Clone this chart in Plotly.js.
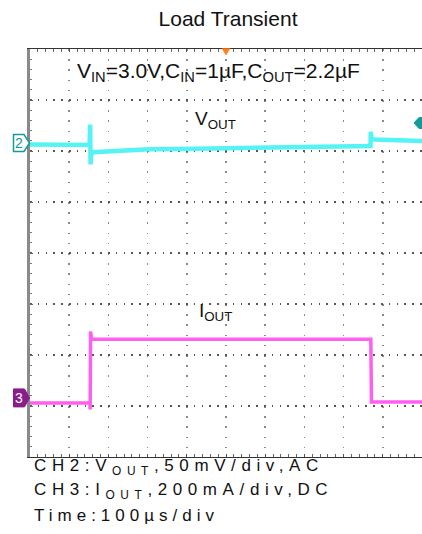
<!DOCTYPE html>
<html>
<head>
<meta charset="utf-8">
<script src="https://cdn.plot.ly/plotly-3.0.1.min.js"></script>
<style>html,body{margin:0;padding:0;background:#fff;}#chart{width:422px;height:534px;}</style>
</head>
<body>
<div id="chart"></div>
<script>
// ---- Data (read from the scope capture) ----
// CH2: VOUT, AC coupled, mV relative to channel-2 reference
const voutTimeUs = [0, 40, 80, 120, 152, 153.5, 154.5, 156, 160, 180, 230, 305, 380, 458, 540, 620, 688, 760, 840, 866, 868.5, 869.5, 871, 880, 917, 960, 1000];
const voutMv     = [-1.5, -1.5, -2, -2, -2, 18, -21, -12, -9, -8.5, -7.5, -6.2, -5.8, -5.2, -4.8, -4.5, -4.2, -3.8, -3, -3, -3, 11, 4, 3.5, 3, 2.5, 2];
// CH3: IOUT, DC coupled, mA
const ioutTimeUs = [0, 153, 153.5, 154.5, 157, 200, 400, 600, 800, 868, 869.5, 871, 1000];
const ioutMa     = [0, 0, -25, 280, 250, 250, 252, 250, 252, 250, 250, 4, 4];

const titleText = 'Load Transient';
const condText  = 'V<sub>IN</sub>=3.0V,C<sub>IN</sub>=1µF,C<sub>OUT</sub>=2.2µF';
const voutLabel = 'V<sub>OUT</sub>';
const ioutLabel = 'I<sub>OUT</sub>';
const infoLines = ['CH2:V<sub>OUT</sub>,50mV/div,AC', 'CH3:I<sub>OUT</sub>,200mA/div,DC', 'Time:100µs/div'];

// scope scales
const timePerDiv = 100, nDivX = 10, nDivY = 8;
const mvPerDiv = 50, maPerDiv = 200;
const ch2ZeroDiv = 6.157;   // reference level of CH2 in divisions from bottom
const ch3ZeroDiv = 1.059;   // zero level of CH3 in divisions from bottom
const ch3MarkerMa = 20;
const trigLevelDiv = 6.55;
const trigTimeUs = 500;

const FONT = 'Liberation Sans, Arial, Helvetica, sans-serif';

const traces = [
  {x: [], y: [], type: 'scatter', xaxis: 'x', yaxis: 'y', hoverinfo: 'skip', showlegend: false},
  {x: voutTimeUs, y: voutMv, type: 'scatter', mode: 'lines', yaxis: 'y2',
   line: {color: '#55f3f3', width: 4.5}, hoverinfo: 'skip'},
  {x: ioutTimeUs, y: ioutMa, type: 'scatter', mode: 'lines', yaxis: 'y3',
   line: {color: '#ff5ff0', width: 3.5}, hoverinfo: 'skip'}
];

const pY = d => d / nDivY; // divisions -> paper
const ch2Paper = pY(ch2ZeroDiv);
const ch3Paper = pY(ch3ZeroDiv + ch3MarkerMa / maPerDiv);

const annotations = [
  {text: condText, xref: 'paper', yref: 'paper', x: 0.482, y: 0.944, showarrow: false,
   xanchor: 'center', yanchor: 'middle', font: {family: FONT, size: 21, color: '#111'}},
  {text: voutLabel, xref: 'paper', yref: 'paper', x: 0.474, y: 0.826, showarrow: false,
   xanchor: 'center', yanchor: 'middle', font: {family: FONT, size: 19, color: '#111'}},
  {text: ioutLabel, xref: 'paper', yref: 'paper', x: 0.474, y: 0.355, showarrow: false,
   xanchor: 'center', yanchor: 'middle', font: {family: FONT, size: 19, color: '#111'}},
  {text: '2', xref: 'paper', yref: 'paper', x: -0.028, y: ch2Paper, showarrow: false,
   xanchor: 'center', yanchor: 'middle', font: {family: FONT, size: 14, color: '#139a9a'}},
  {text: '3', xref: 'paper', yref: 'paper', x: -0.028, y: ch3Paper, showarrow: false,
   xanchor: 'center', yanchor: 'middle', font: {family: FONT, size: 14, color: '#ffffff'}}
];
infoLines.forEach((t, i) => {
  annotations.push({text: t, xref: 'paper', yref: 'paper', x: 0.005, y: -0.025 - i * 0.0588,
    showarrow: false, xanchor: 'left', yanchor: 'middle', align: 'left',
    font: {family: FONT, size: 17, color: '#111'}});
});

const shapes = [
  {type: 'path', xref: 'paper', yref: 'paper', xsizemode: 'pixel', ysizemode: 'pixel',
   xanchor: 0, yanchor: ch2Paper, path: 'M-16.5,-8.5 L-6,-8.5 L-0.5,0 L-6,8.5 L-16.5,8.5 Z',
   line: {color: '#139a9a', width: 1.5}, fillcolor: '#ffffff'},
  {type: 'path', xref: 'paper', yref: 'paper', xsizemode: 'pixel', ysizemode: 'pixel',
   xanchor: 0, yanchor: ch3Paper, path: 'M-16.5,-9 L-5.5,-9 L-0.5,0 L-5.5,9 L-16.5,9 Z',
   line: {color: '#8b1c8b', width: 1}, fillcolor: '#8b1c8b'},
  {type: 'path', xref: 'paper', yref: 'paper', xsizemode: 'pixel', ysizemode: 'pixel',
   xanchor: 1, yanchor: pY(trigLevelDiv), path: 'M-8,0 L-3,-5.5 L3,-5.5 L3,5.5 L-3,5.5 Z',
   line: {color: '#149a9a', width: 1}, fillcolor: '#149a9a'},
  {type: 'path', xref: 'x', yref: 'paper', xsizemode: 'pixel', ysizemode: 'pixel',
   xanchor: trigTimeUs, yanchor: 1, path: 'M-4,0.5 L4,0.5 L0,-6 Z',
   line: {color: '#ff7f1a', width: 0.5}, fillcolor: '#ff7f1a'}
];

const layout = {
  width: 422, height: 534,
  margin: {l: 30, r: 0, t: 49, b: 77, pad: 0},
  paper_bgcolor: '#ffffff', plot_bgcolor: '#ffffff',
  showlegend: false,
  title: {text: titleText, xref: 'container', yref: 'container', x: 228 / 422, xanchor: 'center',
          y: 1 - 19 / 534, yanchor: 'middle', font: {family: FONT, size: 21, color: '#111'}},
  xaxis: {range: [0, nDivX * timePerDiv], dtick: timePerDiv, tick0: 0, showticklabels: false,
          showgrid: true, gridcolor: '#8a8a8a', gridwidth: 1.5, griddash: '1.5px,8.7px',
          zeroline: false, showline: true, linecolor: '#333', linewidth: 1.2, mirror: 'allticks',
          ticks: 'inside', ticklen: 3, tickcolor: '#555', tickwidth: 1,
          minor: {dtick: timePerDiv / 5, ticks: 'inside', ticklen: 2, tickcolor: '#666', showgrid: false},
          fixedrange: true},
  yaxis: {range: [0, nDivY], dtick: 1, tick0: 0, showticklabels: false,
          showgrid: true, gridcolor: '#555', gridwidth: 1.5, griddash: '1.5px,6.3px',
          zeroline: false, showline: true, linecolor: '#8a8a8a', linewidth: 3, mirror: false,
          ticks: 'inside', ticklen: 3, tickcolor: '#666', tickwidth: 1,
          minor: {dtick: 0.2, ticks: 'inside', ticklen: 2, tickcolor: '#777', showgrid: false},
          fixedrange: true},
  yaxis2: {overlaying: 'y', visible: false,
           range: [-ch2ZeroDiv * mvPerDiv, (nDivY - ch2ZeroDiv) * mvPerDiv]},
  yaxis3: {overlaying: 'y', visible: false,
           range: [-ch3ZeroDiv * maPerDiv, (nDivY - ch3ZeroDiv) * maPerDiv]},
  annotations: annotations,
  shapes: shapes
};

Plotly.newPlot('chart', traces, layout, {staticPlot: true, displayModeBar: false}).then(() => {
  document.querySelectorAll('.annotation-text').forEach(el => {
    const t = el.textContent;
    let ls = null;
    if (t.startsWith('CH')) ls = '5.6px';
    else if (t.startsWith('Time')) ls = '5px';
    if (ls) {
      el.setAttribute('letter-spacing', ls);
      el.style.letterSpacing = ls;
    }
  });
});
</script>
</body>
</html>
